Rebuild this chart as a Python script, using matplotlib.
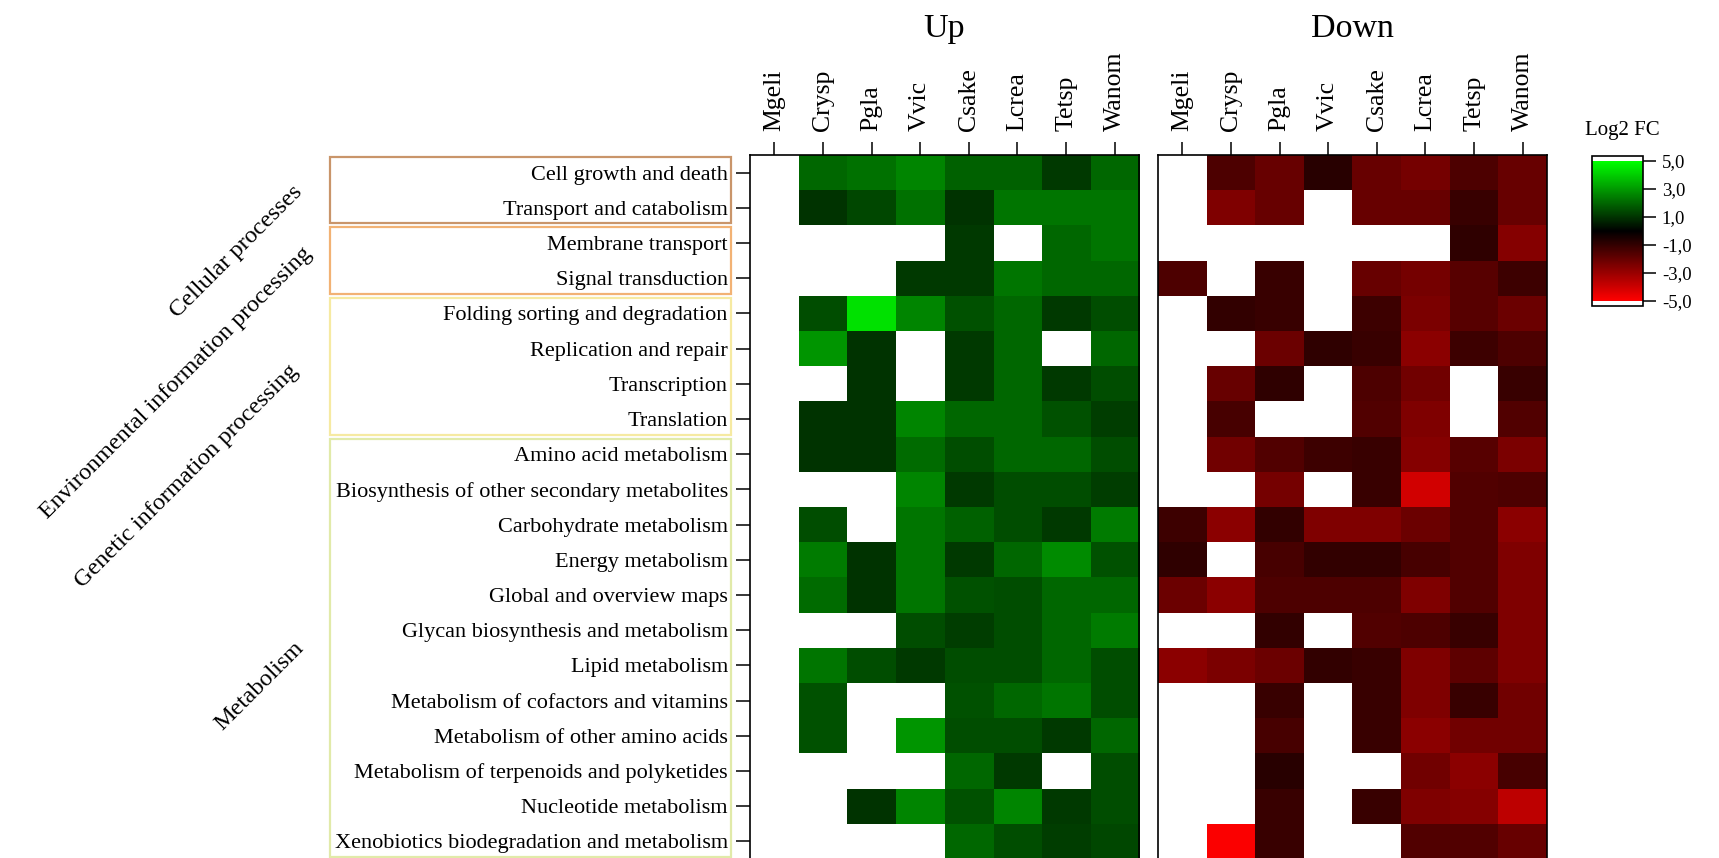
#heatmap des voies KEGG : log2 fold change, up / down par espece
import matplotlib.pyplot as plt
import numpy as np
from matplotlib.colors import LinearSegmentedColormap
from matplotlib.patches import Rectangle

nan = np.nan

species = ['Mgeli', 'Crysp', 'Pgla', 'Vvic', 'Csake', 'Lcrea', 'Tetsp', 'Wanom']

pathways = ['Cell growth and death', 'Transport and catabolism',
            'Membrane transport', 'Signal transduction',
            'Folding sorting and degradation', 'Replication and repair',
            'Transcription', 'Translation',
            'Amino acid metabolism', 'Biosynthesis of other secondary metabolites',
            'Carbohydrate metabolism', 'Energy metabolism',
            'Global and overview maps', 'Glycan biosynthesis and metabolism',
            'Lipid metabolism', 'Metabolism of cofactors and vitamins',
            'Metabolism of other amino acids', 'Metabolism of terpenoids and polyketides',
            'Nucleotide metabolism', 'Xenobiotics biodegradation and metabolism']

# groupes : nom, lignes couvertes, couleur du cadre
groups = ['Cellular processes', 'Environmental information processing',
          'Genetic information processing', 'Metabolism']
group_rows = [(0, 1), (2, 3), (4, 7), (8, 19)]
group_colors = ['#c9956a', '#f2b274', '#f6eaa2', '#e1eaa9']

up = [
    [nan, 2.0, 2.2, 2.6, 1.9, 1.9, 1.1, 2.0],
    [nan, 1.0, 1.4, 2.2, 1.0, 2.3, 2.3, 2.3],
    [nan, nan, nan, nan, 1.1, nan, 2.0, 2.3],
    [nan, nan, nan, 1.1, 1.1, 2.3, 2.0, 2.0],
    [nan, 1.5, 4.4, 2.6, 1.6, 2.0, 1.1, 1.5],
    [nan, 2.9, 1.0, nan, 1.1, 2.0, nan, 2.0],
    [nan, nan, 1.0, nan, 1.1, 2.0, 1.1, 1.5],
    [nan, 1.0, 1.0, 2.6, 2.0, 2.0, 1.6, 1.2],
    [nan, 1.0, 1.0, 2.1, 1.5, 2.0, 2.0, 1.5],
    [nan, nan, nan, 2.6, 1.1, 1.5, 1.5, 1.2],
    [nan, 1.5, nan, 2.3, 1.9, 1.5, 1.1, 2.4],
    [nan, 2.4, 1.0, 2.3, 1.1, 2.0, 2.7, 1.6],
    [nan, 2.1, 1.0, 2.3, 1.6, 1.5, 2.0, 2.0],
    [nan, nan, nan, 1.5, 1.2, 1.5, 2.0, 2.4],
    [nan, 2.3, 1.5, 1.1, 1.5, 1.5, 2.0, 1.5],
    [nan, 1.6, nan, nan, 1.6, 2.0, 2.3, 1.5],
    [nan, 1.6, nan, 2.9, 1.5, 1.5, 1.1, 2.0],
    [nan, nan, nan, nan, 2.0, 1.1, nan, 1.5],
    [nan, nan, 1.0, 2.6, 1.6, 2.6, 1.1, 1.5],
    [nan, nan, nan, nan, 2.0, 1.5, 1.2, 1.4],
]

down = [
    [nan, -1.5, -2.0, -0.8, -2.0, -2.3, -1.5, -2.0],
    [nan, -2.5, -2.0, nan, -2.0, -2.0, -1.1, -2.0],
    [nan, nan, nan, nan, nan, nan, -0.9, -2.6],
    [-1.5, nan, -1.1, nan, -2.0, -2.3, -1.7, -1.2],
    [nan, -1.0, -1.1, nan, -1.2, -2.4, -1.7, -2.1],
    [nan, nan, -2.1, -0.9, -1.1, -2.7, -1.2, -1.5],
    [nan, -2.0, -0.9, nan, -1.5, -2.2, nan, -1.1],
    [nan, -1.4, nan, nan, -1.6, -2.5, nan, -1.6],
    [nan, -2.2, -1.6, -1.2, -1.1, -2.6, -1.7, -2.4],
    [nan, nan, -2.3, nan, -1.1, -4.1, -1.6, -1.5],
    [-1.2, -2.7, -1.0, -2.5, -2.5, -2.1, -1.6, -2.7],
    [-0.9, nan, -1.4, -1.0, -1.0, -1.4, -1.6, -2.5],
    [-2.1, -2.7, -1.5, -1.5, -1.5, -2.5, -1.6, -2.5],
    [nan, nan, -1.0, nan, -1.6, -1.5, -1.1, -2.5],
    [-2.7, -2.4, -2.1, -1.0, -1.1, -2.5, -1.8, -2.5],
    [nan, nan, -1.1, nan, -1.1, -2.5, -1.1, -2.2],
    [nan, nan, -1.4, nan, -1.1, -2.7, -2.2, -2.2],
    [nan, nan, -0.8, nan, nan, -2.2, -2.7, -1.4],
    [nan, nan, -1.1, nan, -1.1, -2.5, -2.6, -3.7],
    [nan, -4.9, -1.1, nan, nan, -1.6, -1.6, -2.0],
]

cbar_ticks = [5, 3, 1, -1, -3, -5]
cbar_labels = ['5,0', '3,0', '1,0', '-1,0', '-3,0', '-5,0']

plt.rcParams['font.family'] = ['Liberation Serif', 'DejaVu Serif']

W, H = 1719, 858
fig = plt.figure(figsize=(W / 100, H / 100), dpi=100)

def box(x0, y0, x1, y1):
    # pixels depuis le coin haut gauche -> fraction de figure
    return [x0 / W, 1 - y1 / H, (x1 - x0) / W, (y1 - y0) / H]

cmap = LinearSegmentedColormap.from_list('rkg', ['#ff0000', '#000000', '#00ff00'])
cmap.set_bad('white')
cmap.set_over('white')
cmap.set_under('white')

ax_up = fig.add_axes(box(750, 155, 1139, 859))
ax_down = fig.add_axes(box(1158, 155, 1547, 859))

for ax, data, title, cx in [(ax_up, up, 'Up', 944.5), (ax_down, down, 'Down', 1352.5)]:
    im = ax.imshow(np.ma.masked_invalid(np.array(data)), cmap=cmap, vmin=-5, vmax=5,
                   aspect='auto', interpolation='nearest')
    ax.xaxis.tick_top()
    ax.set_xticks(range(len(species)))
    ax.set_xticklabels(species, rotation=90, fontsize=18.5)
    ax.tick_params(axis='x', direction='out', length=9.5, width=1.1, pad=8)
    for s in ax.spines.values():
        s.set_linewidth(1.2)
    fig.text(cx / W, 1 - 37 / H, title, ha='center', va='baseline', fontsize=24.5)

ax_up.set_yticks(range(len(pathways)))
ax_up.set_yticklabels(pathways, fontsize=16)
ax_up.tick_params(axis='y', direction='out', length=10, width=1.1, pad=6)
ax_down.set_yticks([])

# cadres colores autour des groupes
row_h = 704 / len(pathways)
for (r0, r1), col in zip(group_rows, group_colors):
    y0 = 155 + r0 * row_h + 2
    y1 = 155 + (r1 + 1) * row_h - 2
    x0, y_b, w, h = box(330, y0, 731, y1)
    fig.add_artist(Rectangle((x0, y_b), w, h, transform=fig.transFigure,
                             fill=False, edgecolor=col, linewidth=1.6))

# noms des groupes en diagonale
label_pos = [(236, 252), (176, 383), (187, 476), (259, 686)]
for name, (px, py) in zip(groups, label_pos):
    fig.text(px / W, 1 - py / H, name, rotation=45, rotation_mode='anchor',
             ha='center', va='center', fontsize=17.5)

cax = fig.add_axes(box(1592, 156, 1643, 306))
cb = fig.colorbar(im, cax=cax, extend='both', extendrect=True, extendfrac=0.036)
cb.set_ticks(cbar_ticks)
cb.set_ticklabels(cbar_labels)
cb.ax.tick_params(length=9.5, width=1.1, labelsize=13.5, pad=4)
cb.outline.set_linewidth(1.2)
fig.text(1622 / W, 1 - 135 / H, 'Log2 FC', ha='center', va='baseline', fontsize=15)

fig.savefig('out.png', dpi=100, facecolor='white')
